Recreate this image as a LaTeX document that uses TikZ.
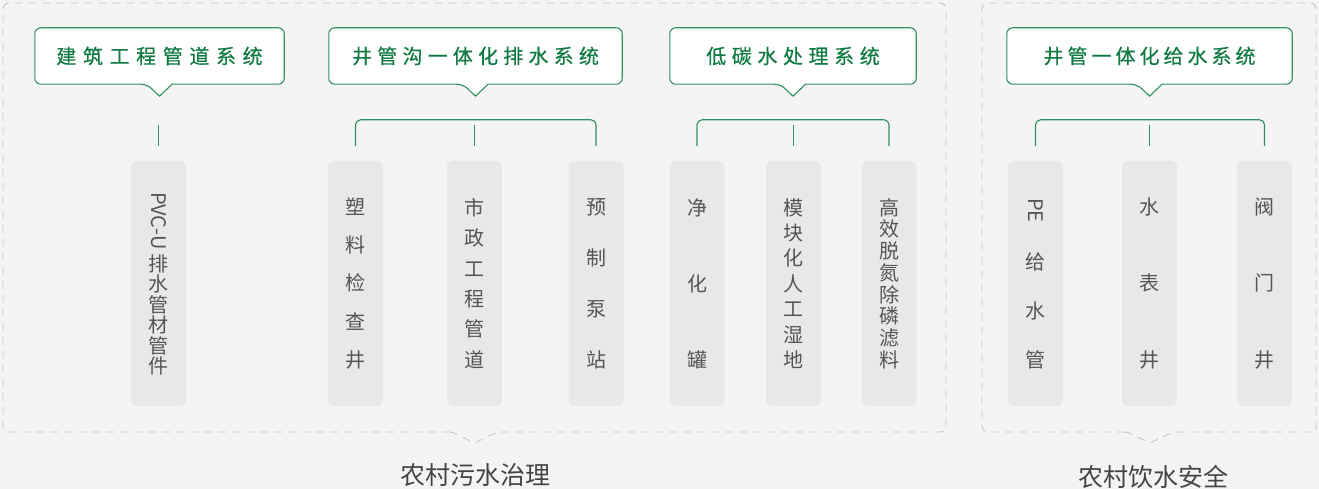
\documentclass[tikz,border=0pt]{standalone}
\usepackage{fontspec}
\setmainfont{Noto Sans CJK SC}
\usepackage{graphicx}

\definecolor{bggray}{HTML}{F4F4F4}
\definecolor{framegray}{HTML}{C6C6C6}
\definecolor{deepgreen}{HTML}{107A43}
\definecolor{linegreen}{HTML}{2F9160}
\definecolor{pillgray}{HTML}{E7E8EA}
\definecolor{pilltext}{HTML}{555555}
\definecolor{captext}{HTML}{444444}

\newcommand{\spreadtext}[1]{\parbox[c][169pt][s]{2em}{\foreach \ch [count=\k] in {#1}{\ifnum\k>1 \vfill\fi\hbox to 2em{\hss\ch\hss}}}}

\begin{document}
\begin{tikzpicture}[x=1pt,y=-1pt,
  title/.style={minimum height=56pt, inner sep=0pt, text=deepgreen, font=\fontsize{20}{24}\selectfont\addfontfeature{LetterSpace=#1,FakeBold=0.4}},
  callout/.style={draw=linegreen, line width=1.1pt, fill=white},
  pill/.style={fill=pillgray, rounded corners=6pt, minimum width=55pt, minimum height=245pt, inner sep=0pt, text=pilltext, font=\fontsize{20}{20}\selectfont},
  link/.style={draw=linegreen, line width=1.1pt},
  frame/.style={draw=framegray, line width=0.9pt, dash pattern=on 8pt off 6pt},
  caption/.style={text=captext, font=\fontsize{25}{30}\selectfont}]
\useasboundingbox (0,0) rectangle (1319,489);
\fill[bggray] (0,0) rectangle (1319,489);

\draw[frame] (452,432) [rounded corners=6pt] -| (3,3) -| (946,432) -- (497,432) [rounded corners=2pt] -- (474.5,443) -- cycle;
\draw[frame] (1127,432) [rounded corners=6pt] -| (982,3) -| (1316,432) -- (1173,432) [rounded corners=2pt] -- (1150,443) -- cycle;

\node[title=33, minimum width=249pt] (t1) at (159.5,56) {};
\node[title=26, minimum width=293pt] (t2) at (475.5,56) {};
\node[title=28, minimum width=246pt] (t3) at (793,56) {};
\node[title=20, minimum width=285pt] (t4) at (1149.5,56) {};
\foreach \t in {t1,t2,t3,t4}
  \draw[callout] ([xshift=12.5pt]\t.south) [rounded corners=6pt] -| (\t.north east) -| (\t.south west) -- ([xshift=-12.5pt]\t.south) [sharp corners] -- ([yshift=-12pt]\t.south) -- cycle;
\node[title=33] at (t1) {建筑工程管道系统};
\node[title=26] at (t2) {井管沟一体化排水系统};
\node[title=28] at (t3) {低碳水处理系统};
\node[title=20] at (t4) {井管一体化给水系统};

\node[pill] (p11) at (158.5,283.5) {\shortstack{\rotatebox{-90}{PVC-U}\\[2pt]排\\[-1pt]水\\[-1pt]管\\[-1pt]材\\[-1pt]管\\[-1pt]件}};
\node[pill] (p21) at (355.5,283.5) {\spreadtext{塑,料,检,查,井}};
\node[pill] (p22) at (474.5,283.5) {\spreadtext{市,政,工,程,管,道}};
\node[pill] (p23) at (596,283.5) {\spreadtext{预,制,泵,站}};
\node[pill] (p31) at (697,283.5) {\spreadtext{净,化,罐}};
\node[pill] (p32) at (793.5,283.5) {\spreadtext{模,块,化,人,工,湿,地}};
\node[pill] (p33) at (889,283.5) {\spreadtext{高,效,脱,氮,除,磷,滤,料}};
\node[pill] (p41) at (1035.5,283.5) {\spreadtext{{\rotatebox{-90}{PE}},给,水,管}};
\node[pill] (p42) at (1149.5,283.5) {\spreadtext{水,表,井}};
\node[pill] (p43) at (1264.5,283.5) {\spreadtext{阀,门,井}};

\draw[link] ([yshift=36pt]p11.north) -- ([yshift=15pt]p11.north);
\draw[link, rounded corners=5pt] ([yshift=15pt]p21.north) -- ([yshift=41pt]p21.north) -- ([yshift=41pt]p23.north) -- ([yshift=15pt]p23.north);
\draw[link] ([yshift=36pt]p22.north) -- ([yshift=15pt]p22.north);
\draw[link, rounded corners=5pt] ([yshift=15pt]p31.north) -- ([yshift=41pt]p31.north) -- ([yshift=41pt]p33.north) -- ([yshift=15pt]p33.north);
\draw[link] ([yshift=36pt]p32.north) -- ([yshift=15pt]p32.north);
\draw[link, rounded corners=5pt] ([yshift=15pt]p41.north) -- ([yshift=41pt]p41.north) -- ([yshift=41pt]p43.north) -- ([yshift=15pt]p43.north);
\draw[link] ([yshift=36pt]p42.north) -- ([yshift=15pt]p42.north);

\node[caption] (c1) at (475,475) {农村污水治理};
\node[caption] (c2) at (1153,477) {农村饮水安全};
\end{tikzpicture}
\end{document}
